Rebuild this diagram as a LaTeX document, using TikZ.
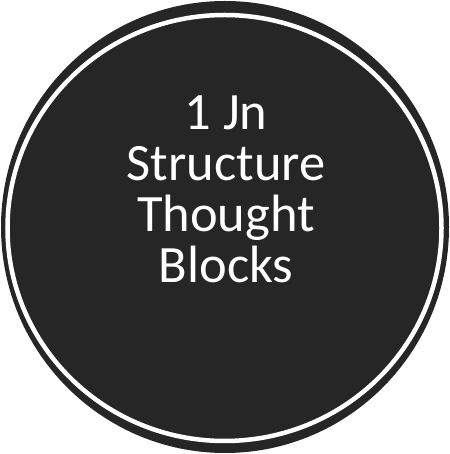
\documentclass[tikz,border=0pt]{standalone}
\usepackage{fontspec}
\setmainfont{Carlito}
\definecolor{disc}{HTML}{262626}
\begin{document}
\begin{tikzpicture}[x=1pt,y=1pt]
\useasboundingbox (0,0) rectangle (449,454);
\coordinate (O) at (225,227); \coordinate (R) at (224.5,226);
\fill[disc] (O) ellipse [x radius=224, y radius=226];
\draw[white,line width=4.5] (R) ellipse [x radius=217, y radius=213];
\node[white,align=center,inner sep=0,font=\fontsize{52.5}{51}\selectfont] (title) at (226,265) {1 Jn\\Structure\\Thought\\Blocks};
\end{tikzpicture}
\end{document}
